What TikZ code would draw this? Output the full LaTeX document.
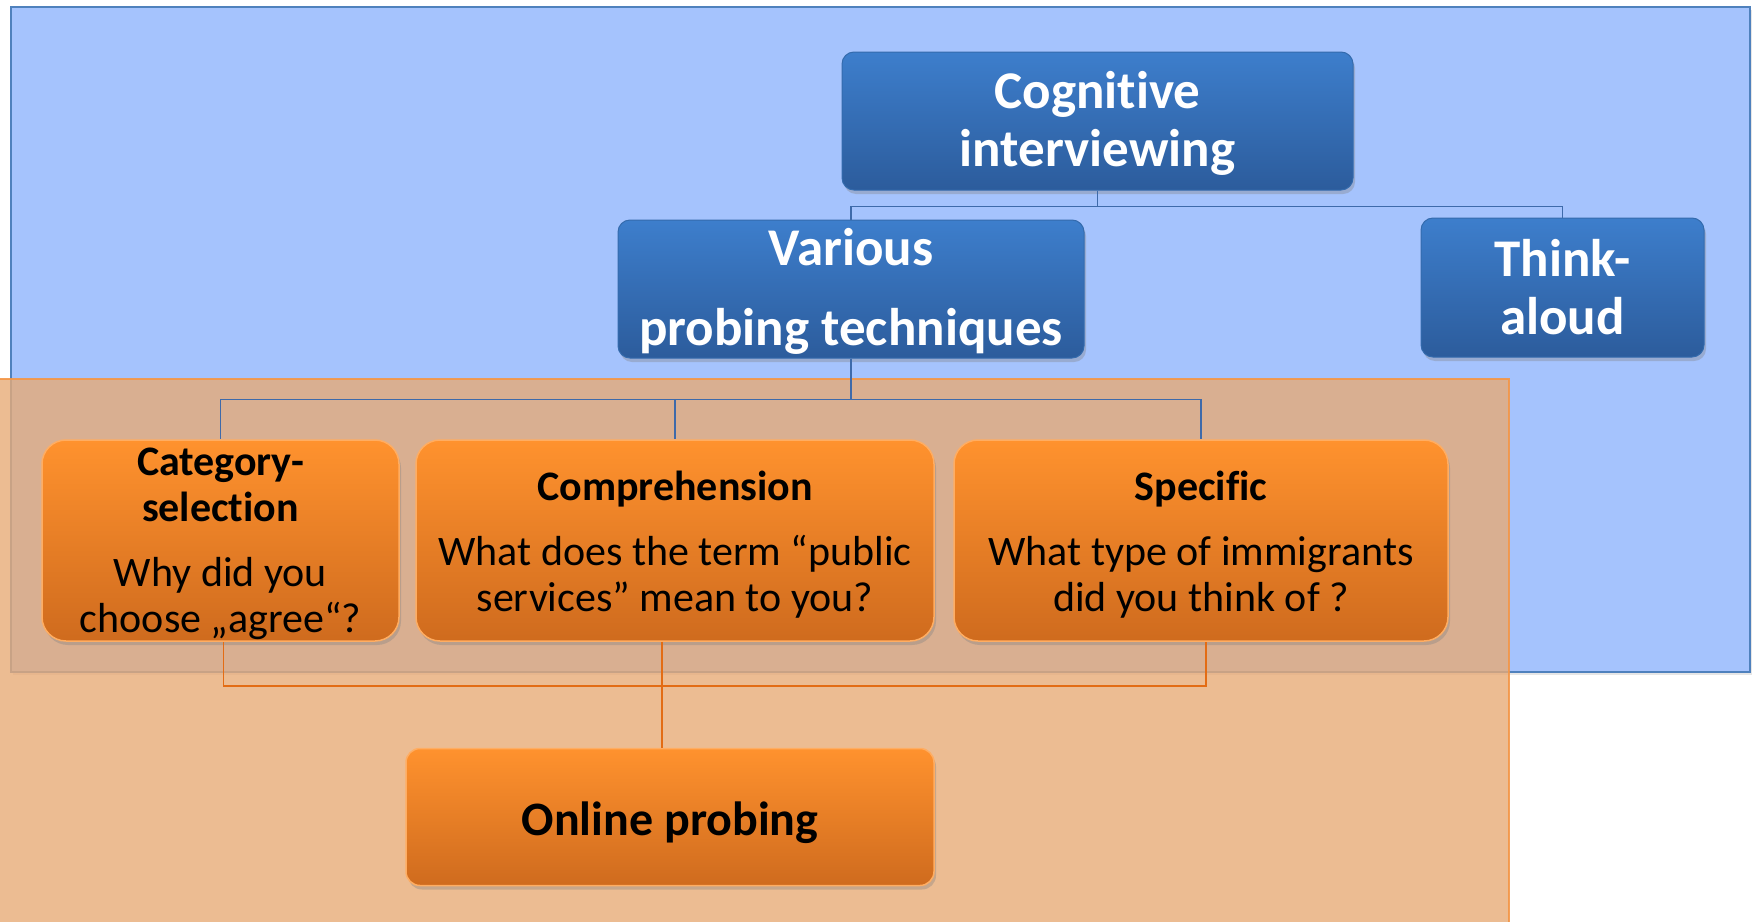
\documentclass[tikz,border=0pt]{standalone}
\usepackage{fontspec}
\setmainfont{Carlito}[Ligatures=NoCommon]
\usetikzlibrary{positioning,calc,shadows}

\definecolor{panelblue}{RGB}{165,195,253}
\definecolor{paneledge}{RGB}{79,129,189}
\definecolor{panelorange}{RGB}{231,171,119}
\definecolor{orangeedge}{RGB}{244,150,70}
\definecolor{boxbluetop}{RGB}{61,126,204}
\definecolor{boxbluebot}{RGB}{44,92,156}
\definecolor{boxorangetop}{RGB}{255,146,46}
\definecolor{boxorangebot}{RGB}{207,107,30}
\definecolor{linkblue}{RGB}{62,106,170}
\definecolor{linkorange}{RGB}{227,108,20}

% invisible strut that pushes a node's text a little lower
\newcommand{\topgap}[1]{\rule{0pt}{#1}}

\begin{document}
\begin{tikzpicture}[x=1pt, y=-1pt,
    bluebox/.style={rounded corners=12pt, top color=boxbluetop, bottom color=boxbluebot,
        draw=boxbluetop!85!black, line width=1pt, text=white, align=center, inner sep=0pt,
        font=\fontsize{53}{58}\selectfont\bfseries,
        drop shadow={shadow xshift=2pt, shadow yshift=-4pt, opacity=0.35}},
    orangebox/.style={rounded corners=24pt, top color=boxorangetop, bottom color=boxorangebot,
        draw=boxorangetop!75!white, line width=1.5pt, text=black, align=center, inner sep=0pt,
        font=\fontsize{42}{46}\selectfont,
        drop shadow={shadow xshift=2pt, shadow yshift=-4pt, opacity=0.35}},
    blueline/.style={draw=linkblue, line width=1.6pt},
    orangeline/.style={draw=linkorange, line width=1.8pt}]

    \useasboundingbox (0,0) rectangle (1756,921);

    % Draw the two background panels
    \filldraw[fill=panelblue, draw=paneledge, line width=2pt,
        drop shadow={shadow xshift=2pt, shadow yshift=-3pt, opacity=0.2}] (11,7) rectangle (1750,672);
    \fill[panelorange, opacity=0.8] (-5,379) rectangle (1509,930);
    \draw[orangeedge, opacity=0.9, line width=1.5pt] (-5,379) -| (1509,930);

    % Blue tree (top)
    \node[bluebox, minimum width=511, minimum height=138] (cog) at (1097.5,121) {\topgap{41pt}Cognitive\\interviewing};
    \node[bluebox, minimum width=466, minimum height=138] (var) at (851,289) {\topgap{42pt}Various\\[22pt]probing techniques};
    \node[bluebox, minimum width=283, minimum height=139] (think) at (1562.5,287.5) {Think-\\aloud};

    % Probe types
    \node[orangebox, minimum width=357, minimum height=201] (cat) at (220.5,540.5)
        {\topgap{35pt}\bfseries Category-\\\bfseries selection\\[19pt]Why did you\\choose „agree“?};
    \node[orangebox, minimum width=518, minimum height=201] (comp) at (675,540.5)
        {\topgap{37pt}\bfseries Comprehension\\[19pt]What does the term “public\\services” mean to you?};
    \node[orangebox, minimum width=494, minimum height=201] (spec) at (1201,540.5)
        {\topgap{37pt}\bfseries Specific\\[19pt]What type of immigrants\\did you think of ?};

    \node[orangebox, rounded corners=14pt, minimum width=528, minimum height=137,
        font=\fontsize{48}{52}\selectfont\bfseries] (online) at (670,817) {\topgap{45pt}Online probing};

    % Connectors
    \draw[blueline] (cog.south) -- ++(0,16) -| (var.north);
    \draw[blueline] (cog.south) -- ++(0,16) -| (think.north);
    \foreach \kid in {cat,comp,spec}
        \draw[blueline] (var.south) -- ++(0,41) -| (\kid.north);

    \coordinate (ojoin) at (662,686);
    \draw[orangeline] ([xshift=3pt]cat.south) |- (ojoin) -| ([xshift=5pt]spec.south);
    \draw[orangeline] ([xshift=-13pt]comp.south) -- ([xshift=-8pt]online.north);
\end{tikzpicture}
\end{document}
